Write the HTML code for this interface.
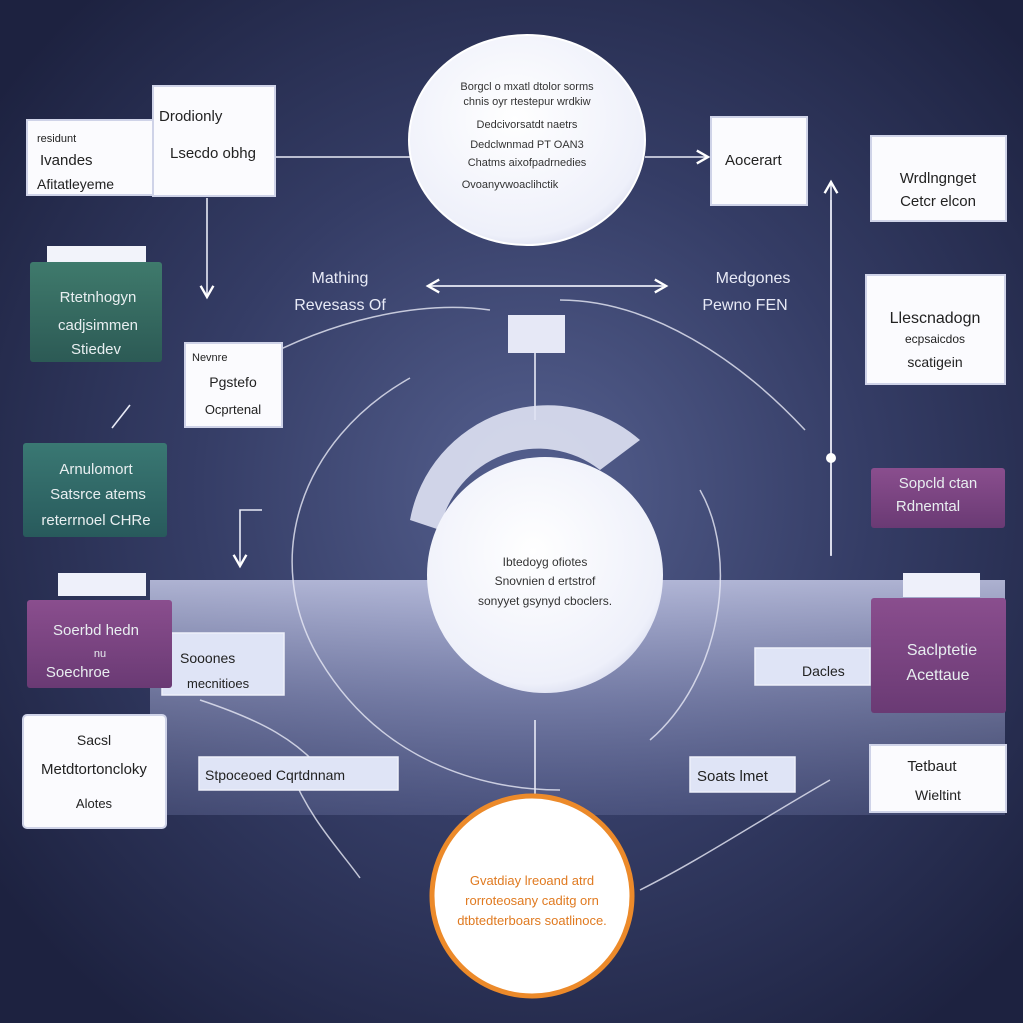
<!DOCTYPE html>
<html><head><meta charset="utf-8"><style>
html,body{margin:0;padding:0;width:1023px;height:1023px;overflow:hidden;background:#232946}
svg{display:block}
text{font-family:"Liberation Sans",sans-serif}
</style></head><body>
<svg width="1023" height="1023" viewBox="0 0 1023 1023" xmlns="http://www.w3.org/2000/svg">
<defs>
<radialGradient id="bg" cx="0.52" cy="0.48" r="0.65">
<stop offset="0" stop-color="#55608f"/><stop offset="0.5" stop-color="#353d66"/><stop offset="1" stop-color="#1d2240"/>
</radialGradient>
<linearGradient id="band" x1="0" y1="0" x2="0" y2="1">
<stop offset="0" stop-color="#c4c8e6" stop-opacity="0.85"/><stop offset="0.5" stop-color="#9ea4cc" stop-opacity="0.55"/><stop offset="1" stop-color="#6f77a6" stop-opacity="0.35"/>
</linearGradient>
<radialGradient id="wc" cx="0.45" cy="0.4" r="0.7">
<stop offset="0" stop-color="#ffffff"/><stop offset="0.8" stop-color="#eef0fa"/><stop offset="1" stop-color="#c9cde6"/>
</radialGradient>
<linearGradient id="grn" x1="0" y1="0" x2="0" y2="1"><stop offset="0" stop-color="#3f7a6c"/><stop offset="1" stop-color="#2c5a55"/></linearGradient>
<linearGradient id="tl" x1="0" y1="0" x2="0" y2="1"><stop offset="0" stop-color="#3a7873"/><stop offset="1" stop-color="#285a5c"/></linearGradient>
<linearGradient id="pur" x1="0" y1="0" x2="0" y2="1"><stop offset="0" stop-color="#8a4e8e"/><stop offset="1" stop-color="#6a3a74"/></linearGradient>
<marker id="ah" markerWidth="10" markerHeight="10" refX="8" refY="5" orient="auto"><path d="M1,1 L8,5 L1,9" fill="none" stroke="#fff" stroke-width="1.5"/></marker>
</defs>
<rect width="1023" height="1023" fill="url(#bg)"/>
<!-- band -->
<rect x="150" y="580" width="855" height="235" fill="url(#band)"/>
<!-- large arcs -->
<g fill="none" stroke="#e8eaf6" stroke-width="1.5" opacity="0.8">
<path d="M410,378 C300,440 260,560 320,660 C380,760 480,790 560,790"/>
<path d="M700,490 C740,560 720,680 650,740"/>
<path d="M250,365 C330,320 420,300 490,310"/>
<path d="M560,300 C650,300 740,360 805,430"/>
<path d="M290,770 C310,820 340,850 360,878"/>
<path d="M640,890 C700,860 760,820 830,780"/>
<path d="M200,700 C260,720 300,740 330,780"/>
</g>
<!-- connectors -->
<g stroke="#e8eaf6" stroke-width="1.6" fill="none">
<line x1="275" y1="157" x2="410" y2="157"/>
<line x1="645" y1="157" x2="708" y2="157" marker-end="url(#ah)"/>
<line x1="207" y1="198" x2="207" y2="297" marker-end="url(#ah)"/>
<line x1="430" y1="286" x2="666" y2="286" marker-end="url(#ah)"/>
<line x1="664" y1="286" x2="428" y2="286" marker-end="url(#ah)"/>
<line x1="831" y1="555" x2="831" y2="182" marker-end="url(#ah)"/>
<line x1="831" y1="200" x2="831" y2="556"/>
<path d="M262,510 L240,510 L240,566" marker-end="url(#ah)"/>
<line x1="535" y1="720" x2="535" y2="808"/>
<line x1="535" y1="350" x2="535" y2="420"/>
<line x1="130" y1="405" x2="112" y2="428"/>
</g>
<circle cx="831" cy="458" r="5" fill="#fff"/>
<!-- top circle -->
<ellipse cx="527" cy="140" rx="118" ry="105" fill="url(#wc)" stroke="#fff" stroke-width="2"/>
<g font-size="11" fill="#333" text-anchor="middle">
<text x="527" y="90">Borgcl o mxatl dtolor sorms</text>
<text x="527" y="105">chnis oyr rtestepur wrdkiw</text>
<text x="527" y="128">Dedcivorsatdt naetrs</text>
<text x="527" y="166">Chatms aixofpadrnedies</text>
<text x="510" y="188">Ovoanyvwoaclihctik</text>
<text x="527" y="148">Dedclwnmad PT OAN3</text>
</g>
<!-- central circle -->
<path d="M410,520 A140,140 0 0 1 640,440 L600,470 A100,100 0 0 0 440,530 Z" fill="#dfe2f3" opacity="0.9"/>
<circle cx="545" cy="575" r="118" fill="url(#wc)"/>
<rect x="508" y="315" width="57" height="38" fill="#e6e8f6"/>
<g font-size="12" fill="#333" text-anchor="middle">
<text x="545" y="566">Ibtedoyg ofiotes</text>
<text x="545" y="585">Snovnien d ertstrof</text>
<text x="545" y="605">sonyyet gsynyd cboclers.</text>
</g>
<!-- orange circle -->
<circle cx="532" cy="896" r="100" fill="#fff" stroke="#ec8a2a" stroke-width="5"/>
<g font-size="13" fill="#e07a20" text-anchor="middle">
<text x="532" y="885">Gvatdiay lreoand atrd</text>
<text x="532" y="905">rorroteosany caditg orn</text>
<text x="532" y="925">dtbtedterboars soatlinoce.</text>
</g>
<!-- white boxes -->
<g fill="#fbfbfe" stroke="#cfd3e8" stroke-width="2">
<rect x="27" y="120" width="128" height="75"/>
<rect x="153" y="86" width="122" height="110"/>
<rect x="711" y="117" width="96" height="88"/>
<rect x="871" y="136" width="135" height="85"/>
<rect x="185" y="343" width="97" height="84"/>
<rect x="866" y="275" width="139" height="109"/>
<rect x="23" y="715" width="143" height="113" rx="4"/>
<rect x="870" y="745" width="136" height="67"/>
</g>
<g fill="#dfe4f6" stroke="#eef0fa" stroke-width="1.5">
<rect x="162" y="633" width="122" height="62"/>
<rect x="755" y="648" width="115" height="37"/>
<rect x="199" y="757" width="199" height="33"/>
<rect x="690" y="757" width="105" height="35"/>
</g>
<!-- colored boxes -->
<rect x="47" y="246" width="99" height="16" fill="#f2f3fa"/>
<rect x="30" y="262" width="132" height="100" rx="3" fill="url(#grn)"/>
<rect x="23" y="443" width="144" height="94" rx="3" fill="url(#tl)"/>
<rect x="871" y="468" width="134" height="60" rx="3" fill="url(#pur)"/>
<rect x="58" y="573" width="88" height="23" fill="#eef0fa"/>
<rect x="27" y="600" width="145" height="88" rx="3" fill="url(#pur)"/>
<rect x="903" y="573" width="77" height="24" fill="#eef0fa"/>
<rect x="871" y="598" width="135" height="115" rx="3" fill="url(#pur)"/>
<!-- labels -->
<g font-size="13" fill="#222">
<text x="37" y="142" font-size="11">residunt</text>
<text x="40" y="165" font-size="15">Ivandes</text>
<text x="37" y="189" font-size="14">Afitatleyeme</text>
<text x="159" y="121" font-size="15">Drodionly</text>
<text x="170" y="158" font-size="15">Lsecdo obhg</text>
<text x="725" y="165" font-size="15">Aocerart</text>
<text x="938" y="183" font-size="15" text-anchor="middle">Wrdlngnget</text>
<text x="938" y="206" font-size="15" text-anchor="middle">Cetcr elcon</text>
<text x="192" y="361" font-size="11">Nevnre</text>
<text x="233" y="387" font-size="14" text-anchor="middle">Pgstefo</text>
<text x="233" y="414" font-size="13" text-anchor="middle">Ocprtenal</text>
<text x="935" y="323" font-size="16" text-anchor="middle">Llescnadogn</text>
<text x="935" y="343" font-size="12" text-anchor="middle">ecpsaicdos</text>
<text x="935" y="367" font-size="14" text-anchor="middle">scatigein</text>
<text x="94" y="745" font-size="14" text-anchor="middle">Sacsl</text>
<text x="94" y="774" font-size="15" text-anchor="middle">Metdtortoncloky</text>
<text x="94" y="808" font-size="13" text-anchor="middle">Alotes</text>
<text x="932" y="771" font-size="15" text-anchor="middle">Tetbaut</text>
<text x="938" y="800" font-size="14" text-anchor="middle">Wieltint</text>
<text x="180" y="663" font-size="14">Sooones</text>
<text x="187" y="688" font-size="13">mecnitioes</text>
<text x="802" y="676" font-size="14">Dacles</text>
<text x="205" y="780" font-size="14">Stpoceoed Cqrtdnnam</text>
<text x="697" y="781" font-size="15">Soats lmet</text>
</g>
<g fill="#e8eaf6" font-size="16" text-anchor="middle">
<text x="340" y="283">Mathing</text>
<text x="340" y="310">Revesass Of</text>
<text x="753" y="283">Medgones</text>
<text x="745" y="310">Pewno FEN</text>
</g>
<g fill="#e8eef0" font-size="15" text-anchor="middle">
<text x="98" y="302">Rtetnhogyn</text>
<text x="98" y="330">cadjsimmen</text>
<text x="96" y="354">Stiedev</text>
<text x="96" y="474">Arnulomort</text>
<text x="98" y="499">Satsrce atems</text>
<text x="96" y="525">reterrnoel CHRe</text>
<text x="938" y="488">Sopcld ctan</text>
<text x="928" y="511">Rdnemtal</text>
<text x="96" y="635">Soerbd hedn</text>
<text x="100" y="657" font-size="11">nu</text>
<text x="78" y="677">Soechroe</text>
<text x="942" y="655" font-size="16">Saclptetie</text>
<text x="938" y="680" font-size="16">Acettaue</text>
</g>
</svg>
</body></html>
